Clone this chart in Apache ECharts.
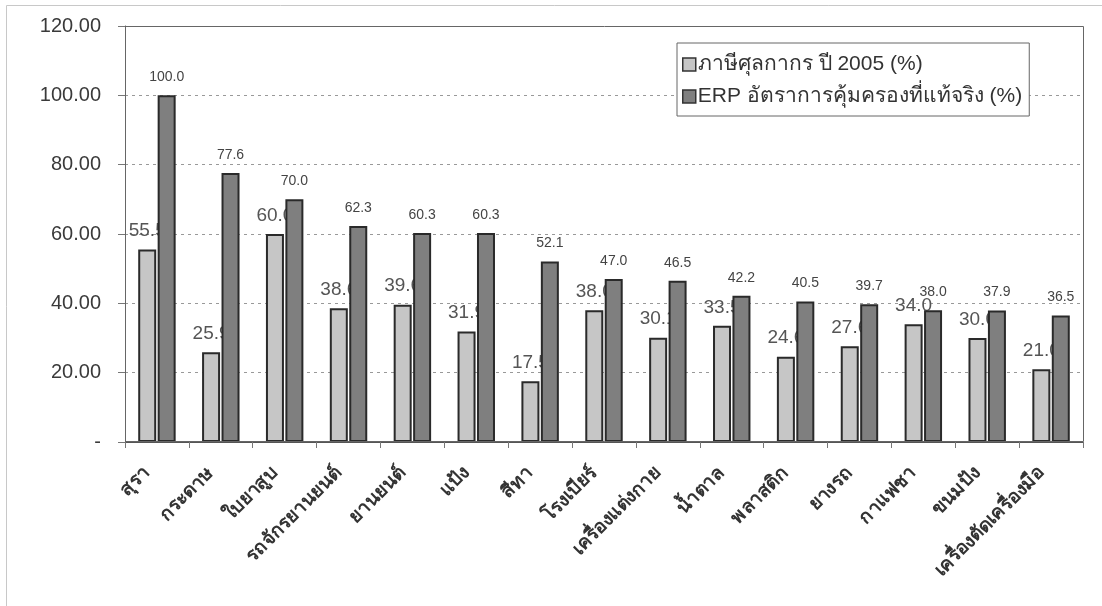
<!DOCTYPE html>
<html><head><meta charset="utf-8">
<script src="https://cdn.jsdelivr.net/npm/echarts@6/dist/echarts.min.js"></script>
<style>html,body{margin:0;padding:0;background:#fff}#c{width:1102px;height:606px}</style>
</head><body><div id="c"></div>
<script>
const categories = ['สุรา','กระดาษ','ใบยาสูบ','รถจักรยานยนต์','ยานยนต์','แป้ง','สีทา','โรงเบียร์','เครื่องแต่งกาย','น้ำตาล','พลาสติก','ยางรถ','กาแฟชา','ขนมปัง','เครื่องตัดเครื่องมือ'];
const tariff2005 = [55.5,25.9,60.0,38.6,39.6,31.9,17.5,38.0,30.1,33.5,24.6,27.6,34.0,30.0,21.0];
const erp = [100.0,77.6,70.0,62.3,60.3,60.3,52.1,47.0,46.5,42.2,40.5,39.7,38.0,37.9,36.5];
const seriesNames = ['ภาษีศุลกากร ปี 2005 (%)','ERP อัตราการคุ้มครองที่แท้จริง (%)'];

const font = '"Liberation Sans", "Noto Sans", "DejaVu Sans", sans-serif';
const chart = echarts.init(document.getElementById('c'));
chart.setOption({
  backgroundColor: '#fff',
  animation: false,
  graphic: [{
    type: 'rect', shape: {x: 6.5, y: 5.5, width: 1120, height: 620},
    style: {fill: 'none', stroke: '#c8c8c8', lineWidth: 1}, z: -1
  }, {
    type: 'rect', shape: {x: 125.5, y: 26.5, width: 958, height: 415},
    style: {fill: 'none', stroke: '#666', lineWidth: 1}, z: 10
  }],
  legend: {
    orient: 'vertical', left: 677, top: 43, width: 351,
    itemWidth: 13, itemHeight: 13, itemGap: 11,
    padding: [11, 7, 9, 5],
    borderColor: '#666', borderWidth: 1, backgroundColor: '#fff',
    textStyle: {fontFamily: font, fontSize: 21, color: '#333', padding: [0, 0, 0, -3]},
    data: seriesNames.map(n => ({name: n, icon: 'rect', itemStyle: {borderWidth: 1.5, borderColor: '#333'}}))
  },
  grid: {left: 125, right: 19, top: 26, bottom: 164, containLabel: false},
  xAxis: {
    type: 'category', data: categories,
    axisLine: {lineStyle: {color: '#555'}},
    axisTick: {show: true, length: 6, lineStyle: {color: '#777'}},
    axisLabel: {rotate: 45, interval: 0, fontFamily: font, fontSize: 19, fontWeight: 'bold', color: '#333', margin: 18,
      padding: [0, 14, 0, 0]}
  },
  yAxis: {
    type: 'value', min: 0, max: 120, interval: 20,
    axisLine: {show: true, lineStyle: {color: '#555'}},
    axisTick: {show: true, length: 7, lineStyle: {color: '#777'}},
    axisLabel: {fontFamily: font, fontSize: 20, color: '#3a3a3a', margin: 24,
      formatter: v => v === 0 ? '-' : v.toFixed(2)},
    splitLine: {show: true, lineStyle: {color: '#999', type: [3, 4], width: 1}}
  },
  series: [{
    name: seriesNames[0], type: 'bar', data: tariff2005, z: 2,
    barWidth: 18, barGap: '8%',
    itemStyle: {color: '#c6c6c6', borderColor: '#2a2a2a', borderWidth: 2},
    label: {show: true, position: 'top', distance: 9, fontFamily: font, fontSize: 19, color: '#555',
      formatter: p => p.value.toFixed(1)}
  }, {
    name: seriesNames[1], type: 'bar', data: erp, z: 3,
    barWidth: 18,
    itemStyle: {color: '#7f7f7f', borderColor: '#2a2a2a', borderWidth: 2},
    label: {show: true, position: 'top', distance: 11, fontFamily: font, fontSize: 14, color: '#444',
      formatter: p => p.value.toFixed(1)}
  }]
});
</script></body></html>
